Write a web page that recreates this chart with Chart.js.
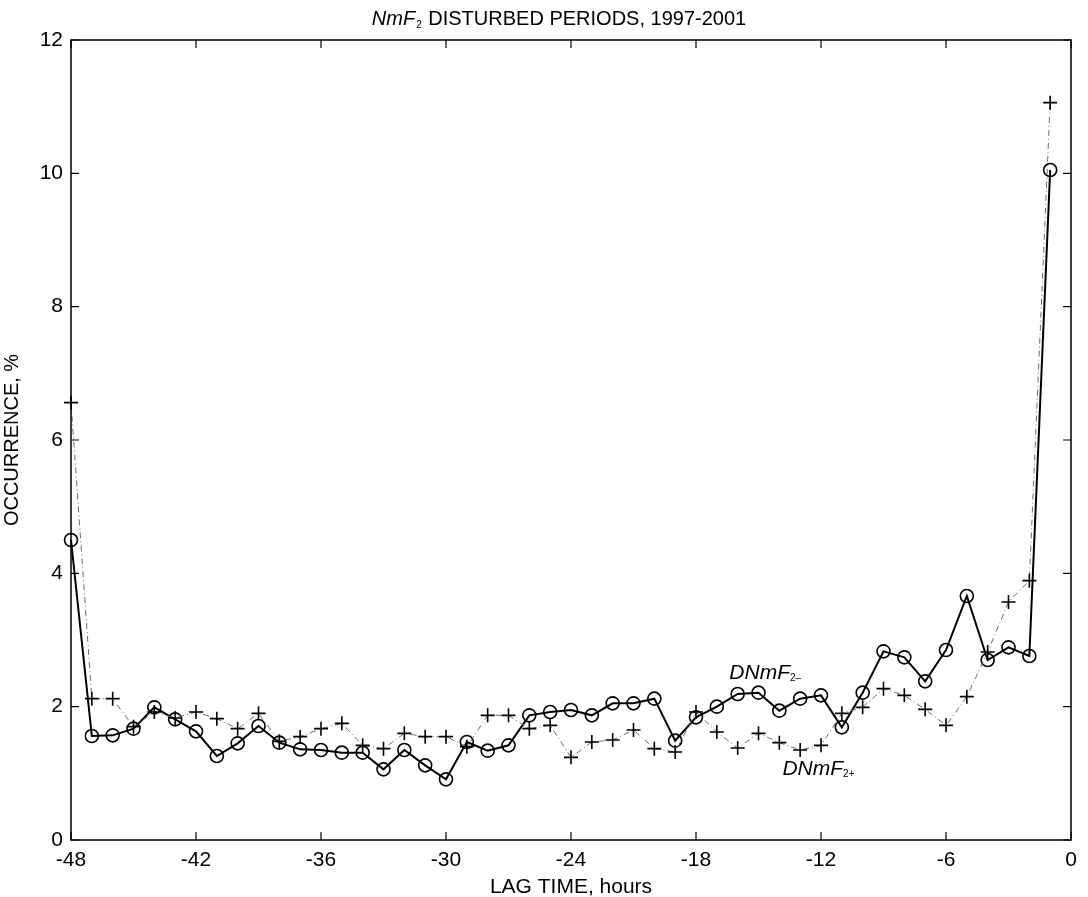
<!DOCTYPE html>
<html>
<head>
<meta charset="utf-8">
<script src="https://cdn.jsdelivr.net/npm/chart.js@4/dist/chart.umd.min.js"></script>
<style>
  html, body { margin: 0; padding: 0; background: #fff; }
  #wrap { width: 1088px; height: 897px; }
</style>
</head>
<body>
<div id="wrap"><canvas id="occChart" width="1088" height="897"></canvas></div>
<script>
// lag time, hours
const lagHours = [-48, -47, -46, -45, -44, -43, -42, -41, -40, -39, -38, -37,
  -36, -35, -34, -33, -32, -31, -30, -29, -28, -27, -26, -25,
  -24, -23, -22, -21, -20, -19, -18, -17, -16, -15, -14, -13,
  -12, -11, -10, -9, -8, -7, -6, -5, -4, -3, -2, -1];

// occurrence, % (circles, solid line)
const dnmf2Minus = [4.50, 1.56, 1.57, 1.67, 1.99, 1.81, 1.63, 1.26, 1.45, 1.71, 1.46, 1.36,
  1.35, 1.31, 1.31, 1.06, 1.35, 1.12, 0.91, 1.47, 1.34, 1.42, 1.87, 1.92,
  1.95, 1.87, 2.05, 2.05, 2.12, 1.49, 1.84, 2.00, 2.19, 2.21, 1.94, 2.12,
  2.17, 1.69, 2.21, 2.83, 2.74, 2.38, 2.85, 3.66, 2.70, 2.89, 2.76, 10.05];

// occurrence, % (plus signs, dash-dot line)
const dnmf2Plus = [6.56, 2.12, 2.12, 1.70, 1.92, 1.83, 1.92, 1.82, 1.67, 1.90, 1.48, 1.55,
  1.67, 1.75, 1.42, 1.37, 1.60, 1.55, 1.55, 1.40, 1.87, 1.87, 1.67, 1.72,
  1.24, 1.47, 1.50, 1.65, 1.37, 1.32, 1.92, 1.62, 1.38, 1.60, 1.46, 1.35,
  1.42, 1.90, 1.99, 2.27, 2.17, 1.96, 1.72, 2.15, 2.82, 3.57, 3.89, 11.06];

const xTickValues = [-48, -42, -36, -30, -24, -18, -12, -6, 0];
const yTickValues = [0, 2, 4, 6, 8, 10, 12];

// where the in-plot series names sit (data coords: left edge, baseline)
const seriesLabels = [
  { main: "DNmF", sub: "2\u2013", x: -16.4, y: 2.42 },
  { main: "DNmF", sub: "2+", x: -13.85, y: 0.97 }
];

const FONT = "'Liberation Sans', Arial, sans-serif";

const minusPoints = lagHours.map((h, i) => ({ x: h, y: dnmf2Minus[i] }));
const plusPoints = lagHours.map((h, i) => ({ x: h, y: dnmf2Plus[i] }));

// box + inward ticks, title, series names
const decorations = {
  id: "decorations",
  afterDraw(chart) {
    const { ctx, chartArea: a, scales } = chart;
    const tl = 8;
    ctx.save();
    ctx.strokeStyle = "#000";
    ctx.lineWidth = 1.5;
    ctx.strokeRect(a.left, a.top, a.right - a.left, a.bottom - a.top);
    ctx.lineWidth = 1.2;
    ctx.beginPath();
    xTickValues.forEach(v => {
      const px = scales.x.getPixelForValue(v);
      ctx.moveTo(px, a.bottom); ctx.lineTo(px, a.bottom - tl);
      ctx.moveTo(px, a.top); ctx.lineTo(px, a.top + tl);
    });
    yTickValues.forEach(v => {
      const py = scales.y.getPixelForValue(v);
      ctx.moveTo(a.left, py); ctx.lineTo(a.left + tl, py);
      ctx.moveTo(a.right, py); ctx.lineTo(a.right - tl, py);
    });
    ctx.stroke();

    // title
    ctx.fillStyle = "#000";
    ctx.textBaseline = "alphabetic";
    ctx.textAlign = "left";
    const italic = "italic 20px " + FONT;
    const normal = "20px " + FONT;
    const small = "10px " + FONT;
    ctx.font = italic;
    const w1 = ctx.measureText("NmF").width;
    ctx.font = small;
    const w2 = ctx.measureText("2").width + 2;
    ctx.font = normal;
    const rest = " DISTURBED PERIODS, 1997-2001";
    const w3 = ctx.measureText(rest).width;
    let tx = (a.left + a.right) / 2 - 12 - (w1 + w2 + w3) / 2;
    const ty = 25;
    ctx.font = italic; ctx.fillText("NmF", tx, ty); tx += w1;
    ctx.font = small; ctx.fillText("2", tx + 1, ty + 3); tx += w2;
    ctx.font = normal; ctx.fillText(rest, tx, ty);

    // series names
    seriesLabels.forEach(l => {
      const lx = scales.x.getPixelForValue(l.x);
      const ly = scales.y.getPixelForValue(l.y);
      ctx.font = "italic 21px " + FONT;
      ctx.fillText(l.main, lx, ly);
      const mw = ctx.measureText(l.main).width;
      ctx.font = "10px " + FONT;
      ctx.fillText(l.sub, lx + mw, ly + 2);
    });
    ctx.restore();
  }
};

const chart = new Chart(document.getElementById("occChart").getContext("2d"), {
  type: "line",
  data: {
    datasets: [
      {
        label: "DNmF2+",
        data: plusPoints,
        borderColor: "#6a6a6a",
        borderWidth: 1,
        borderDash: [6, 3, 1, 3],
        pointStyle: "cross",
        pointRadius: 7,
        pointBorderColor: "#000",
        pointBorderWidth: 1.6,
        fill: false,
        tension: 0,
        clip: false,
      },
      {
        label: "DNmF2-",
        data: minusPoints,
        borderColor: "#000",
        borderWidth: 2,
        pointStyle: "circle",
        pointRadius: 6.5,
        pointBorderColor: "#000",
        pointBackgroundColor: "rgba(0,0,0,0)",
        pointBorderWidth: 1.6,
        fill: false,
        tension: 0,
        clip: false,
      },
    ],
  },
  options: {
    responsive: false,
    animation: false,
    layout: { padding: { top: 40, right: 17, left: 0, bottom: 0 } },
    plugins: {
      legend: { display: false },
      title: { display: false },
      tooltip: { enabled: false },
    },
    scales: {
      x: {
        type: "linear",
        min: -48,
        max: 0,
        afterFit: (scale) => { scale.height = 57; },
        afterBuildTicks: (scale) => { scale.ticks = xTickValues.map(v => ({ value: v })); },
        grid: { display: false, drawTicks: false },
        border: { display: false },
        ticks: { color: "#000", padding: 8, font: { family: FONT, size: 21 } },
        title: {
          display: true,
          text: "LAG TIME, hours",
          color: "#000",
          padding: { top: 0, bottom: -3 },
          font: { family: FONT, size: 21 },
        },
      },
      y: {
        min: 0,
        max: 12,
        afterFit: (scale) => { scale.width = 71; },
        afterBuildTicks: (scale) => { scale.ticks = yTickValues.map(v => ({ value: v })); },
        grid: { display: false, drawTicks: false },
        border: { display: false },
        ticks: { color: "#000", padding: 8, font: { family: FONT, size: 21 } },
        title: {
          display: true,
          text: "OCCURRENCE, %",
          color: "#000",
          padding: { top: 0, bottom: 0 },
          font: { family: FONT, size: 20 },
        },
      },
    },
  },
  plugins: [decorations],
});
</script>
</body>
</html>
